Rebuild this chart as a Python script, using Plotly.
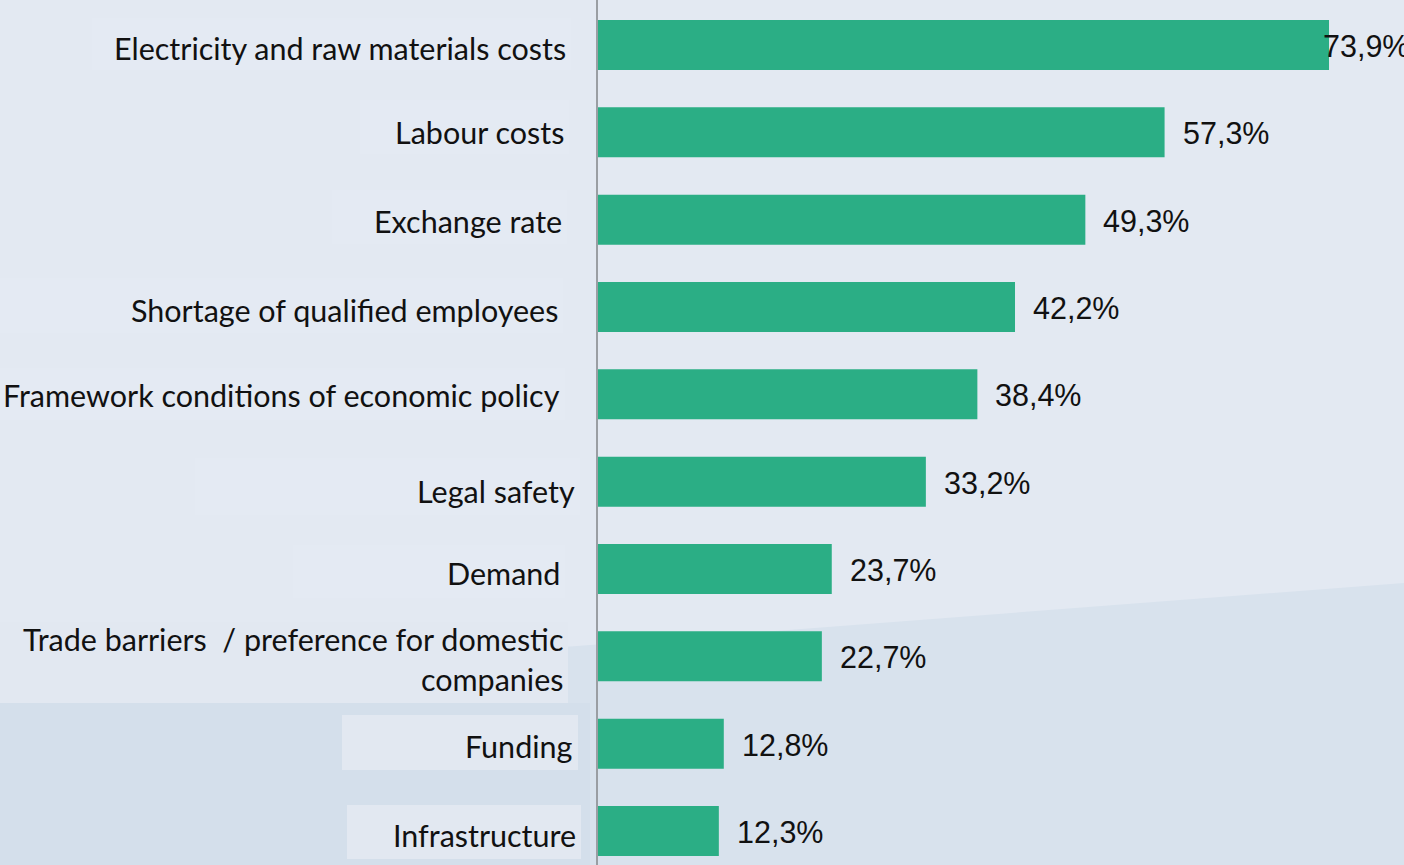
import plotly.graph_objects as go

# Share of companies naming each factor (in %)
categories = [
    "Electricity and raw materials costs",
    "Labour costs",
    "Exchange rate",
    "Shortage of qualified employees",
    "Framework conditions of economic policy",
    "Legal safety",
    "Demand",
    "Trade barriers  / preference for domestic<br>companies",
    "Funding",
    "Infrastructure",
]
values = [73.9, 57.3, 49.3, 42.2, 38.4, 33.2, 23.7, 22.7, 12.8, 12.3]

W, H = 1404, 865
AXIS_X = 597  # pixel column of the category axis

# per-label right edge (px) and downward nudge (px) for the category captions
label_right = [568, 566, 564, 560, 562, 577, 562, 565, 575, 578]
label_dy = [4, 1, 2, 4, 2, 10, 5, 4, 3, 5]
# background tiles behind captions: (left px, top px, bottom px)
tiles = [
    (92, 18, 70), (360, 100, 154), (332, 190, 244), (0, 278, 333),
    (0, 368, 420), (195, 458, 515), (293, 545, 598), (0, 622, 703),
    (342, 715, 770), (347, 805, 859),
]

BG_TOP = "#E3E9F2"
BG_LOW = "#D8E2ED"
TILE = "#E2E8F1"
BAR = "#2BAE85"


def px(x):
    return x / W


def py(y):
    return 1 - y / H


fig = go.Figure()
fig.add_trace(go.Bar(
    x=values,
    y=list(range(len(categories))),
    orientation="h",
    marker=dict(color=BAR, line=dict(width=0)),
    width=0.573,
    hoverinfo="skip",
))

shapes = [
    # darker lower wedge of the backdrop
    dict(type="path", xref="paper", yref="paper", layer="below",
         path=f"M 0,{py(690)} L 1,{py(583)} L 1,0 L 0,0 Z",
         fillcolor=BG_LOW, line=dict(width=0)),
    # slightly deeper tone towards the lower left
    dict(type="path", xref="paper", yref="paper", layer="below",
         path=f"M 0,{py(703)} L {px(590)},{py(703)} L {px(590)},0 L 0,0 Z",
         fillcolor="#D4DFEB", line=dict(width=0)),
]
for i, (l, t, b) in enumerate(tiles):
    shapes.append(dict(
        type="rect", xref="paper", yref="paper", layer="below",
        x0=px(l), x1=px(label_right[i] + 3), y0=py(b), y1=py(t),
        fillcolor=TILE if b > 600 else "#E4EAF3", line=dict(width=0),
    ))
# vertical category axis line
shapes.append(dict(type="line", xref="paper", yref="paper", layer="above",
                   x0=px(AXIS_X), x1=px(AXIS_X), y0=0, y1=1,
                   line=dict(color="#9A9EA3", width=2)))

annotations = []
for i, cat in enumerate(categories):
    annotations.append(dict(
        xref="paper", yref="y", x=px(label_right[i]), y=i,
        text=cat, showarrow=False, xanchor="right", yanchor="middle",
        align="right", yshift=-label_dy[i] + 1,
        font=dict(family="Lato", size=30.5, color="#111111"),
    ))
for i, v in enumerate(values):
    txt = f"{v:.1f}%".replace(".", ",")
    annotations.append(dict(
        xref="x", yref="y", x=v, y=i, text=txt, showarrow=False,
        xanchor="left", yanchor="middle",
        xshift=-8 if i == 0 else 16, yshift=-1,
        font=dict(family="Liberation Sans", size=30.5, color="#111111"),
    ))

fig.update_layout(
    width=W, height=H,
    margin=dict(l=0, r=0, t=0, b=0),
    paper_bgcolor=BG_TOP,
    plot_bgcolor="rgba(0,0,0,0)",
    showlegend=False,
    shapes=shapes,
    annotations=annotations,
    xaxis=dict(domain=[AXIS_X / W, 1], range=[0, 81.47], visible=False,
               showgrid=False, zeroline=False, fixedrange=True),
    yaxis=dict(range=[9.389, -0.515], visible=False, showgrid=False,
               zeroline=False, fixedrange=True),
)

fig.write_html("out.html", config={"displayModeBar": False})
